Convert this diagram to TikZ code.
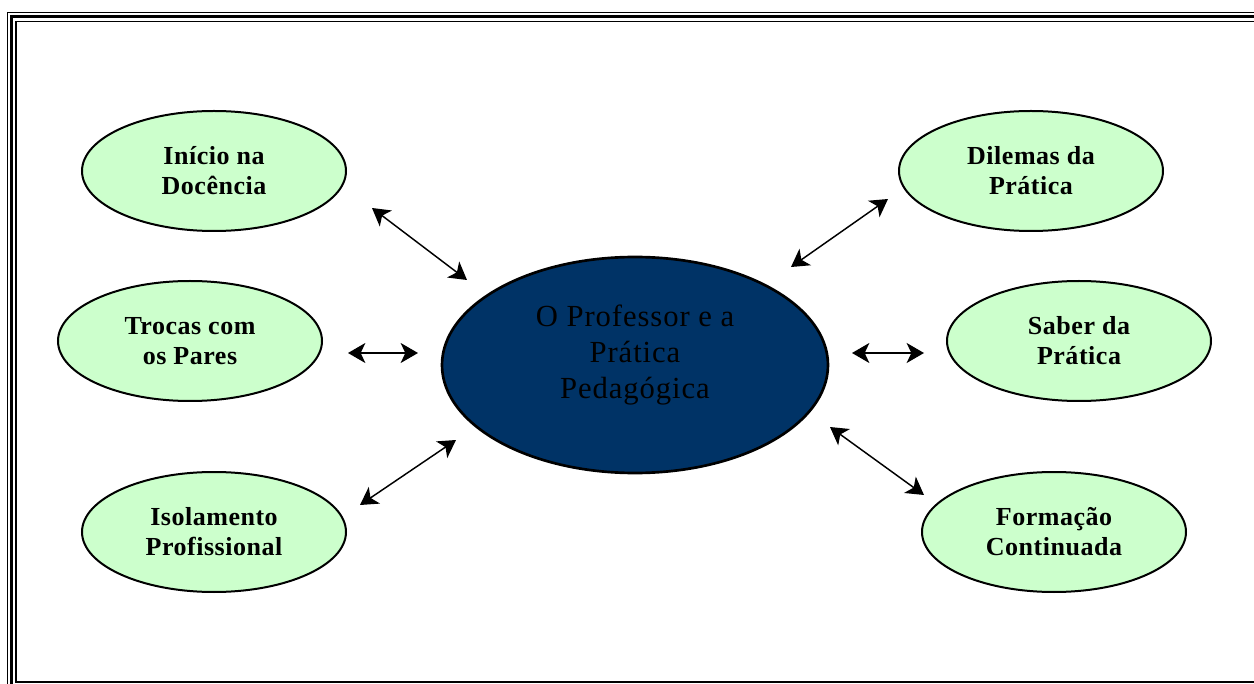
\documentclass[tikz,border=0pt]{standalone}
\usepackage{fontspec}
\setmainfont{Liberation Serif}
\newfontfamily\spacedfont[LetterSpace=3]{Liberation Serif}
\newfontfamily\spacedbold[LetterSpace=2]{Liberation Serif Bold}
\usetikzlibrary{shapes.geometric,arrows.meta}
\definecolor{lgreen}{HTML}{CCFFCC}
\definecolor{dblue}{HTML}{003366}
\tikzset{
  topic/.style={ellipse, draw=black, line width=1.5pt, fill=lgreen, minimum width=198pt, minimum height=90pt, inner sep=0pt, align=center, font=\spacedbold\fontsize{19.5}{22.5}\selectfont},
  core/.style={ellipse, draw=black, line width=2pt, fill=dblue, minimum width=289.5pt, minimum height=162pt, inner sep=0pt},
  coretext/.style={align=center, inner sep=0pt, font=\spacedfont\fontsize{23}{27}\selectfont},
  link/.style={line width=1.1pt, {Stealth[length=13pt,width=15pt,inset=3.5pt]}-{Stealth[length=13pt,width=15pt,inset=3.5pt]}},
  frame/.style={draw=black}
}
\begin{document}
\begin{tikzpicture}[x=0.75pt,y=-0.75pt]
\useasboundingbox (0,0) rectangle (1254,684);
\begin{scope}
\clip (0,0) rectangle (1254,684);
\draw[frame, line width=0.9pt] (7.6,12.3) rectangle (1300,700);
\draw[frame, line width=2pt] (11.7,16.8) rectangle (1295,695);
\draw[frame, line width=1pt] (16,21.2) rectangle (1290,682);
\end{scope}
\node[core] (c) at (635,365) {};
\node[coretext] (ct) at (635,355) {O Professor e a\\Prática\\Pedagógica};
\node[topic] (a) at (214,171) {Início na\\Docência};
\node[topic] (b) at (190,341) {Trocas com\\os Pares};
\node[topic] (d) at (214,532) {Isolamento\\Profissional};
\node[topic] (e) at (1031,171) {Dilemas da\\Prática};
\node[topic] (f) at (1079,341) {Saber da\\Prática};
\node[topic] (g) at (1054,532) {Formação\\Continuada};
\coordinate (a1) at (372,208); \coordinate (a2) at (467,280);
\coordinate (b1) at (348,353); \coordinate (b2) at (418,353);
\coordinate (d1) at (360,505); \coordinate (d2) at (456,440);
\coordinate (e1) at (888,199); \coordinate (e2) at (791,267);
\coordinate (f1) at (852,353); \coordinate (f2) at (924,353);
\coordinate (g1) at (830,427); \coordinate (g2) at (924,495);
\draw[link] (a1) -- (a2);
\draw[link] (b1) -- (b2);
\draw[link] (d1) -- (d2);
\draw[link] (e1) -- (e2);
\draw[link] (f1) -- (f2);
\draw[link] (g1) -- (g2);
\end{tikzpicture}
\end{document}
